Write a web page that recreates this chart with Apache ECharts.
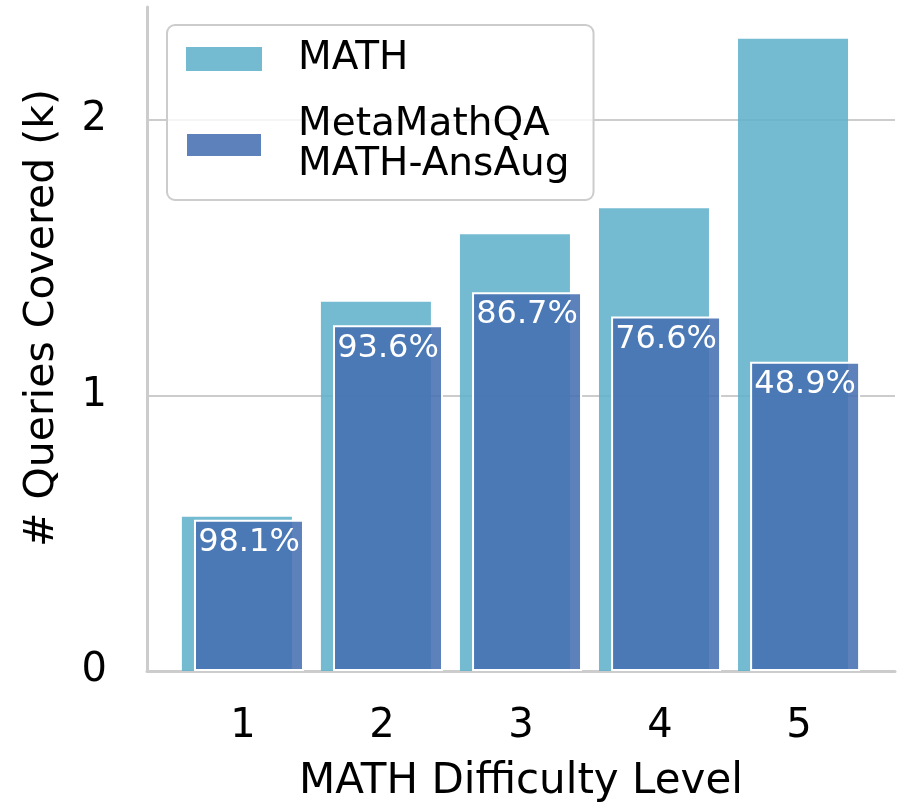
<!DOCTYPE html>
<html>
<head>
<meta charset="utf-8">
<script src="https://cdn.jsdelivr.net/npm/echarts@6/dist/echarts.min.js"></script>
<style>
  html, body { margin: 0; padding: 0; background: #fff; }
  #chart { width: 899px; height: 806px; }
</style>
</head>
<body>
<div id="chart"></div>
<script>
// MATH difficulty levels
const levels = [1, 2, 3, 4, 5];
// Number of MATH training queries per level (thousands)
const mathQueries = [0.56, 1.34, 1.585, 1.68, 2.295];
// Queries covered by MetaMathQA MATH-AnsAug per level (thousands)
const covered = [0.549, 1.255, 1.375, 1.287, 1.122];
// Coverage percentages printed on the bars
const coverageLabels = ['98.1%', '93.6%', '86.7%', '76.6%', '48.9%'];
const yTicks = [0, 1, 2];

const FONT = 'DejaVu Sans';
const chart = echarts.init(document.getElementById('chart'), null, { renderer: 'canvas' });

chart.setOption({
  animation: false,
  backgroundColor: '#fff',
  grid: { left: 147, right: 4, top: 7, bottom: 135, containLabel: false, outerBoundsMode: 'none' },
  legend: {
    left: 167, top: 25,
    orient: 'vertical',
    padding: [14, 24, 15, 18],
    itemGap: 26,
    itemWidth: 76, itemHeight: 24,
    backgroundColor: 'rgba(255,255,255,0.8)',
    borderColor: '#cccccc', borderWidth: 2, borderRadius: 8,
    textStyle: { fontFamily: FONT, fontSize: 39, lineHeight: 40, color: '#000', padding: [0, 0, 0, 31] },
    data: [
      { name: 'MATH', icon: 'rect' },
      { name: 'MetaMathQA\nMATH-AnsAug', icon: 'rect' }
    ]
  },
  xAxis: {
    type: 'value',
    min: 0.31, max: 5.69,
    name: 'MATH Difficulty Level',
    nameLocation: 'middle',
    nameGap: 90,
    nameTextStyle: { fontFamily: FONT, fontSize: 42, color: '#000' },
    axisLine: { show: true, lineStyle: { color: '#cccccc', width: 3 } },
    axisTick: { show: false },
    splitLine: { show: false },
    axisLabel: {
      customValues: levels,
      fontFamily: FONT, fontSize: 40, color: '#000', margin: 36
    }
  },
  yAxis: {
    type: 'value',
    min: 0, max: 2.41, interval: 1,
    name: '# Queries Covered (k)',
    nameLocation: 'middle',
    nameGap: 84,
    nameTextStyle: { fontFamily: FONT, fontSize: 41, color: '#000', padding: [0, 0, 0, 42] },
    axisLine: { show: true, lineStyle: { color: '#cccccc', width: 3 } },
    axisTick: { show: false },
    splitLine: { show: true, showMaxLine: false, lineStyle: { color: '#cccccc', width: 2 } },
    axisLabel: {
      customValues: yTicks,
      fontFamily: FONT, fontSize: 40, color: '#000', margin: 40
    }
  },
  series: [
    {
      name: 'MATH',
      type: 'bar',
      barWidth: 110,
      barGap: '-89%',
      itemStyle: { color: 'rgba(97,178,204,0.88)' },
      data: levels.map((lv, i) => [lv, mathQueries[i]])
    },
    {
      name: 'MetaMathQA\nMATH-AnsAug',
      type: 'bar',
      barWidth: 110,
      barGap: '-89%',
      itemStyle: { color: 'rgba(69,111,178,0.88)', borderColor: '#ffffff', borderWidth: 2 },
      label: {
        show: true,
        position: 'insideTop',
        distance: 7,
        fontFamily: FONT, fontSize: 32, color: '#ffffff',
        formatter: p => coverageLabels[p.dataIndex]
      },
      data: levels.map((lv, i) => [lv, covered[i]])
    }
  ]
});
</script>
</body>
</html>
